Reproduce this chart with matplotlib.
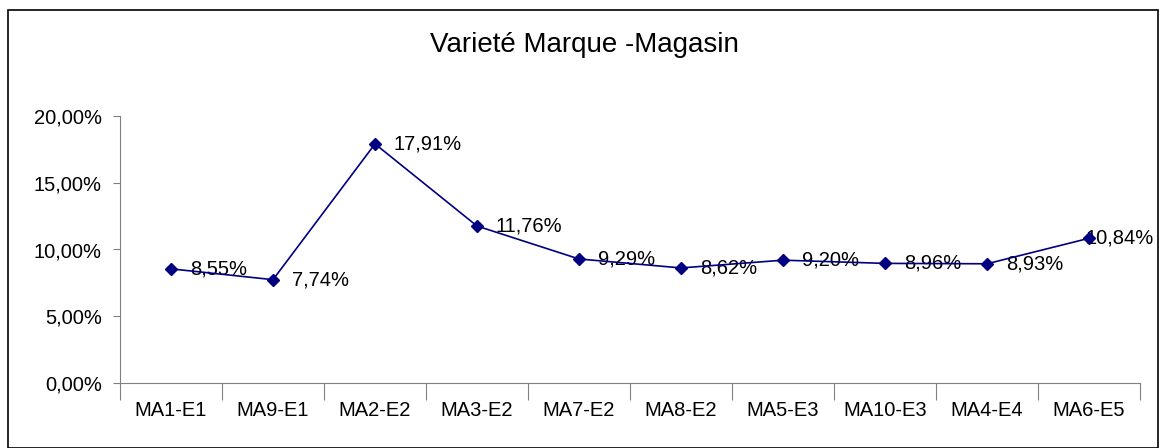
import matplotlib
matplotlib.use("Agg")
import matplotlib.pyplot as plt
from matplotlib.patches import Rectangle
from matplotlib.ticker import FixedLocator, FuncFormatter, NullFormatter
from matplotlib.transforms import ScaledTranslation

categories = ["MA1-E1", "MA9-E1", "MA2-E2", "MA3-E2", "MA7-E2", "MA8-E2",
              "MA5-E3", "MA10-E3", "MA4-E4", "MA6-E5"]
values = [8.55, 7.74, 17.91, 11.76, 9.29, 8.62, 9.20, 8.96, 8.93, 10.84]
yticks = [0, 5, 10, 15, 20]
title = "Varieté Marque -Magasin"

plt.rcParams['font.family'] = ['Liberation Sans', 'DejaVu Sans']

W, H = 1164, 448
fig = plt.figure(figsize=(W / 100, H / 100), dpi=100)
left, right, bottom, top = 120, 1140, 383, 116
ax = fig.add_axes([left / W, 1 - bottom / H, (right - left) / W, (bottom - top) / H])

x = list(range(len(categories)))
ax.plot(x, values, color="#000080", linewidth=1.2, marker="D", markersize=6.5,
        markerfacecolor="#000080", markeredgecolor="#000080", clip_on=False, zorder=3)

def fmt(v):
    return f"{v:.2f}".replace(".", ",") + "%"

labels = []
for xi, v in zip(x, values):
    t = ax.annotate(fmt(v), (xi, v), xytext=(13.5, 0), textcoords="offset points",
                    ha="left", va="center", fontsize=14.5, color="black", zorder=2)
    labels.append(t)

ax.set_xlim(-0.5, len(categories) - 0.5)
ax.set_ylim(0, 20)
ax.set_yticks(yticks)
ax.yaxis.set_major_formatter(FuncFormatter(lambda v, p: f"{v:.2f}".replace(".", ",") + "%"))
ax.tick_params(axis="y", direction="out", length=5, width=0.8, color="#808080",
               labelsize=14.5, pad=8)

ax.set_xticks(x)
ax.set_xticklabels(categories)
ax.tick_params(axis="x", which="major", length=0, labelsize=14.5, pad=13)
ax.xaxis.set_minor_locator(FixedLocator([i + 0.5 for i in range(-1, len(categories))]))
ax.xaxis.set_minor_formatter(NullFormatter())
ax.tick_params(axis="x", which="minor", direction="out", length=12, width=0.8, color="#808080")

for s in ["top", "right"]:
    ax.spines[s].set_visible(False)
for s in ["left", "bottom"]:
    ax.spines[s].set_color("#808080")
    ax.spines[s].set_linewidth(0.8)

fig.text(584 / W, 1 - 45 / H, title, ha="center", va="center", fontsize=20)

fig.patches.append(Rectangle((8 / W, 0), (1158 - 8) / W, 1 - 10 / H,
                             transform=fig.transFigure, fill=False,
                             edgecolor="black", linewidth=1.2))

# keep data labels inside the chart frame (shift left like the spreadsheet does)
fig.canvas.draw()
renderer = fig.canvas.get_renderer()
limit = 1154
for t in labels:
    bb = t.get_window_extent(renderer)
    if bb.x1 > limit:
        t.set_x(t.get_position()[0]) if False else None
        t.xyann = (t.xyann[0] - (bb.x1 - limit) * 72 / fig.dpi, t.xyann[1])

fig.savefig("out.png", dpi=100)
